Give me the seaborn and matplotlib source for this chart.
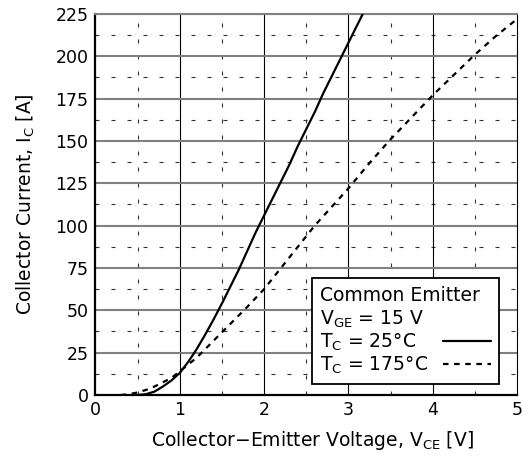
"""IGBT output characteristics, recreated with seaborn."""
import matplotlib
matplotlib.use("Agg")
import matplotlib.pyplot as plt
import numpy as np
import pandas as pd
import seaborn as sns

# values
vce_25 = [0.5, 0.6, 0.7, 0.8, 0.9, 1.0, 1.1, 1.2, 1.3, 1.4, 1.5, 1.6, 1.7,
          1.8, 1.9, 2.0, 2.1, 2.2, 2.3, 2.4, 2.5, 2.6, 2.7, 2.8, 2.9, 3.0,
          3.1, 3.2]
ic_25 = [0, 0.5, 2, 5, 8.5, 13, 19.5, 27, 35.5, 44.5, 54, 64, 74,
         85, 96, 106, 116, 126, 136, 147, 157, 167, 178, 188, 198, 208,
         218, 228]

vce_175 = [0.3, 0.4, 0.5, 0.6, 0.7, 0.8, 0.9, 1.0, 1.1, 1.2, 1.3, 1.4, 1.5,
           1.6, 1.8, 2.0, 2.2, 2.4, 2.6, 2.8, 3.0, 3.25, 3.5, 3.75, 4.0,
           4.25, 4.5, 4.75, 5.0]
ic_175 = [0, 0.5, 1.5, 3, 5, 7.5, 10, 14, 18, 22, 27, 32, 37,
          42, 52, 62.5, 75, 87.5, 100, 111, 122, 137, 151, 164, 177,
          189, 201, 212, 222]

x_ticks = [0, 1, 2, 3, 4, 5]
y_ticks = [0, 25, 50, 75, 100, 125, 150, 175, 200, 225]

legend_title = "Common Emitter\nV$_{\\mathrm{GE}}$ = 15 V"
label_25 = "T$_{\\mathrm{C}}$ = 25°C"
label_175 = "T$_{\\mathrm{C}}$ = 175°C"

df25 = pd.DataFrame({"vce": vce_25, "ic": ic_25})
df175 = pd.DataFrame({"vce": vce_175, "ic": ic_175})

sns.set_style("white")
plt.rcParams["font.family"] = ["DejaVu Sans"]
plt.rcParams["mathtext.fontset"] = "custom"
plt.rcParams["mathtext.rm"] = "DejaVu Sans"
plt.rcParams["mathtext.it"] = "DejaVu Sans:italic"
for key in ["text.color", "axes.labelcolor", "xtick.color", "ytick.color"]:
    plt.rcParams[key] = "black"

fig = plt.figure(figsize=(5.24, 4.62), dpi=100)
ax = fig.add_axes([0.182, 0.145, 0.805, 0.825])

# grid: minor dashed at the half steps, major solid
for x in np.arange(0.5, 5, 1.0):
    ax.axvline(x, color="#333333", lw=0.8, ls=(0, (3.6, 10.8)), zorder=1)
for y in np.arange(12.5, 225, 25):
    ax.axhline(y, color="#333333", lw=0.8, ls=(0, (3.6, 10.8)), zorder=1)
for x in x_ticks[1:-1]:
    ax.axvline(x, color="black", lw=0.8, zorder=1)
for y in y_ticks[1:]:
    ax.axhline(y, color="#808080", lw=1.5, zorder=1)

sns.lineplot(data=df25, x="vce", y="ic", ax=ax, color="black", lw=1.6,
             label=label_25, zorder=3)
sns.lineplot(data=df175, x="vce", y="ic", ax=ax, color="black", lw=1.6,
             ls=(0, (2.5, 2.5)), label=label_175, zorder=3)

ax.set_xlim(0, 5)
ax.set_ylim(0, 225)
ax.set_xticks(x_ticks)
ax.set_yticks(y_ticks)
ax.tick_params(length=0, labelsize=12.5)
ax.tick_params(axis="y", pad=5)
ax.tick_params(axis="x", pad=4)

for side in ["left", "bottom"]:
    ax.spines[side].set_color("black")
    ax.spines[side].set_linewidth(1.6)
ax.spines["top"].set_color("#808080")
ax.spines["top"].set_linewidth(1.5)
ax.spines["right"].set_color("black")
ax.spines["right"].set_linewidth(0.8)

ax.set_xlabel("Collector\u2212Emitter Voltage, V$_{\\mathrm{CE}}$ [V]", fontsize=13.5, labelpad=9)
ax.xaxis.set_label_coords(0.515, -0.088)
ax.set_ylabel("Collector Current, I$_{\\mathrm{C}}$ [A]", fontsize=13.5, labelpad=13)

leg = ax.legend(title=legend_title, loc="lower right", bbox_to_anchor=(0.957, 0.029),
                markerfirst=False, fancybox=False, framealpha=1, edgecolor="black",
                fontsize=13.5, title_fontsize=13.5, alignment="left",
                handlelength=2.55, handletextpad=0.8, labelspacing=0.08,
                borderpad=0.42, borderaxespad=0)
leg.get_frame().set_linewidth(1.3)
leg.get_title().set_linespacing(1.25)
leg.set_zorder(5)

# left-align entry texts, keep the line samples flush right
fig.canvas.draw()
renderer = fig.canvas.get_renderer()
for col in leg._legend_handle_box.get_children():
    items = col.get_children()
    col.width = max(it.get_bbox(renderer).width for it in items)
    for it in items:
        it.mode = "expand"

plt.savefig("out.png", dpi=100)
plt.close()
